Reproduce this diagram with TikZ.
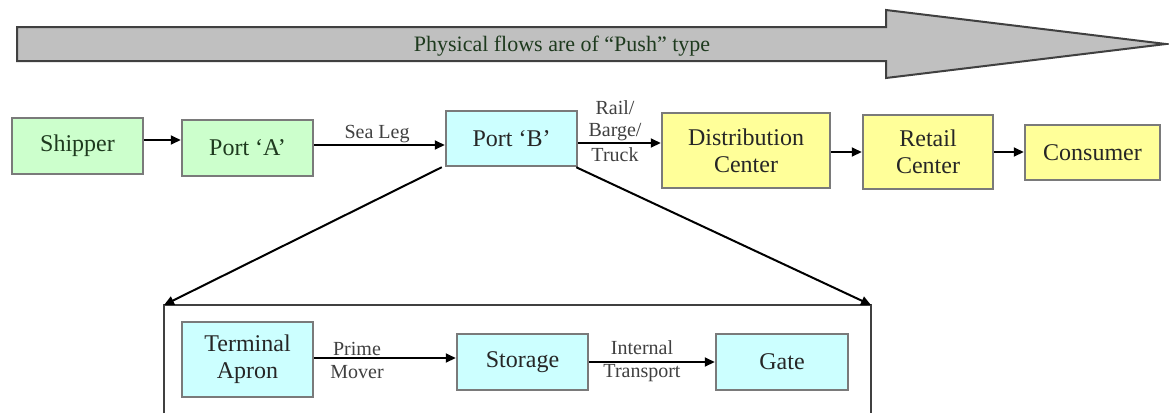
\documentclass[tikz,border=0pt]{standalone}
\usepackage{fontspec}
\setmainfont{Liberation Serif}
\usetikzlibrary{arrows.meta}
\definecolor{gfill}{HTML}{CCFFCC}
\definecolor{cfill}{HTML}{CCFFFF}
\definecolor{yfill}{HTML}{FFFF99}
\definecolor{bord}{HTML}{7A7A7A}
\definecolor{bannerfill}{HTML}{C0C0C0}
\definecolor{gtext}{HTML}{1E3A1E}
\tikzset{
  box/.style={draw=bord, line width=2.5pt, rectangle, inner sep=0pt, align=center,
    font=\fontsize{24}{27}\selectfont},
  gbox/.style={box, fill=gfill, text=gtext},
  cbox/.style={box, fill=cfill, text=black!85},
  ybox/.style={box, fill=yfill, text=black!85},
  tip/.style={-{Triangle[length=10pt,width=9pt]}},
  flow/.style={line width=2pt, tip},
  lbl/.style={font=\fontsize{20}{22}\selectfont, text=black!75, inner sep=0pt, anchor=base}
}
\begin{document}
\begin{tikzpicture}[x=1pt,y=-1pt]
\useasboundingbox (0,0) rectangle (1169,413);
% banner arrow
\draw[fill=bannerfill, draw=black!75, line width=2pt]
  (17,27) -- (886,27) -- (886,10) -- (1166,44) -- (886,78) -- (886,61) -- (17,61) -- cycle;
\node[font=\fontsize{22}{24}\selectfont, text=gtext, anchor=base] (banner) at (562,51) {Physical flows are of “Push” type};
% top row
\node[gbox, minimum width=131pt, minimum height=56pt] (ship) at (77.5,146) {Shipper};
\node[gbox, minimum width=131pt, minimum height=56pt] (pa) at (247.5,148) {Port ‘A’};
\node[cbox, minimum width=131pt, minimum height=55pt] (pb) at (511.5,138.5) {Port ‘B’};
\node[ybox, minimum width=168pt, minimum height=75pt] (dc) at (746,150.5) {Distribution\\Center};
\node[ybox, minimum width=130pt, minimum height=74pt] (rc) at (928,152) {Retail\\Center};
\node[ybox, minimum width=135pt, minimum height=55pt] (co) at (1092.5,152.5) {Consumer};
\draw[flow] (ship.east |- 0,140) -- (pa.west |- 0,140);
\draw[flow] (pa.east |- 0,145) -- (pb.west |- 0,145);
\node[lbl] (sealeg) at (377,138) {Sea Leg};
\draw[flow] (pb.east |- 0,143) -- (dc.west |- 0,143);
\node[lbl] (rail) at (615,114) {Rail/};
\node[lbl] (barge) at (615,136) {Barge/};
\node[lbl] (truck) at (615,161) {Truck};
\draw[flow] (dc.east |- 0,152) -- (rc.west |- 0,152);
\draw[flow] (rc.east |- 0,152) -- (co.west |- 0,152);
% zoom box
\coordinate (tl) at (164,305);
\coordinate (tr) at (871,305);
\draw[line width=2pt, draw=black!75] (164,413) -- (tl) -- (tr) -- (871,413);
\draw[line width=2pt, tip] ([xshift=-3pt]pb.south west) -- (tl);
\draw[line width=2pt, tip] ([xshift=-2pt]pb.south east) -- (tr);
% inner row
\node[cbox, minimum width=131pt, minimum height=75pt] (ta) at (247.5,359.5) {Terminal\\Apron};
\node[cbox, minimum width=131pt, minimum height=56pt] (st) at (522.5,362) {Storage};
\node[cbox, minimum width=132pt, minimum height=56pt] (ga) at (782,362) {Gate};
\draw[flow] (ta.east |- 0,358) -- (st.west |- 0,358);
\node[lbl] (prime) at (357,355) {Prime};
\node[lbl] (mover) at (357,378) {Mover};
\draw[flow] (st.east |- 0,362) -- (ga.west |- 0,362);
\node[lbl] (internal) at (642,354) {Internal};
\node[lbl] (transport) at (642,377) {Transport};
\end{tikzpicture}
\end{document}
